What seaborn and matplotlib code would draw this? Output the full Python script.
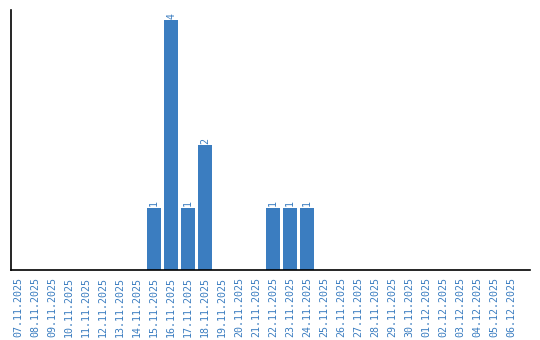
import matplotlib
matplotlib.use("Agg")
import matplotlib.pyplot as plt
import seaborn as sns
import pandas as pd

dates = ["07.11.2025", "08.11.2025", "09.11.2025", "10.11.2025", "11.11.2025",
         "12.11.2025", "13.11.2025", "14.11.2025", "15.11.2025", "16.11.2025",
         "17.11.2025", "18.11.2025", "19.11.2025", "20.11.2025", "21.11.2025",
         "22.11.2025", "23.11.2025", "24.11.2025", "25.11.2025", "26.11.2025",
         "27.11.2025", "28.11.2025", "29.11.2025", "30.11.2025", "01.12.2025",
         "02.12.2025", "03.12.2025", "04.12.2025", "05.12.2025", "06.12.2025"]
counts = [0, 0, 0, 0, 0, 0, 0, 0, 1, 4, 1, 2, 0, 0, 0, 1, 1, 1,
          0, 0, 0, 0, 0, 0, 0, 0, 0, 0, 0, 0]

df = pd.DataFrame({"date": dates, "count": counts})

sns.set_style("white")
blue = "#3b7dc0"

fig = plt.figure(figsize=(5.4, 3.4), dpi=100)
ax = fig.add_axes([10.5 / 540, 70 / 340, 519.5 / 540, 260 / 340])
sns.barplot(data=df, x="date", y="count", color=blue, saturation=1,
            width=0.82, ax=ax, order=dates, linewidth=0, edgecolor=blue)

for i, v in enumerate(counts):
    if v > 0:
        ax.text(i, v + 0.02, str(v), rotation=90, ha="center", va="bottom",
                color=blue, fontsize=7.2, family="DejaVu Sans Mono")

ax.set_xlim(-0.44, 30.1)
ax.set_ylim(0, 4.16)
ax.set_xlabel("")
ax.set_ylabel("")
ax.set_yticks([])
ax.tick_params(axis="x", length=0, pad=5)
ax.set_xticks(range(len(dates)))
ax.set_xticklabels(dates, rotation=90, color=blue, fontsize=7.2,
                   family="DejaVu Sans Mono")
for s in ["top", "right"]:
    ax.spines[s].set_visible(False)
for s in ["left", "bottom"]:
    ax.spines[s].set_color("black")
    ax.spines[s].set_linewidth(1.2)

fig.savefig("out.png", dpi=100)
